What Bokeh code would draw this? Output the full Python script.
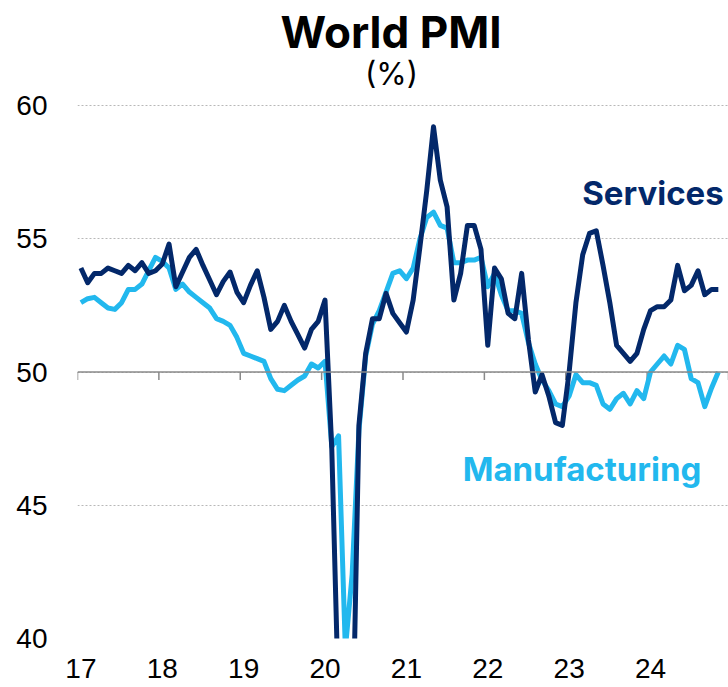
import numpy as np
from bokeh.plotting import figure
from bokeh.models import Range1d, FixedTicker, Span, Label
from bokeh.embed import file_html
from bokeh.resources import INLINE

# ---- data (monthly, Jan 2017 - Nov 2024) ----
year_labels = ["17", "18", "19", "20", "21", "22", "23", "24"]

manufacturing = [
    # 2017
    52.6, 52.75, 52.8, 52.6, 52.4, 52.35, 52.6, 53.1, 53.1, 53.3, 53.8, 54.3,
    # 2018
    54.15, 53.9, 53.1, 53.3, 53.0, 52.8, 52.6, 52.4, 52.0, 51.9, 51.75, 51.3,
    # 2019
    50.7, 50.6, 50.5, 50.4, 49.75, 49.35, 49.3, 49.5, 49.7, 49.85, 50.3, 50.15,
    # 2020
    50.4, 47.2, 47.6, 39.6, 42.4, 47.8, 50.6, 51.8, 52.3, 53.0, 53.7, 53.8,
    # 2021
    53.5, 53.9, 55.0, 55.8, 56.0, 55.5, 55.4, 54.1, 54.1, 54.2, 54.2, 54.3,
    # 2022
    53.2, 53.7, 52.9, 52.3, 52.3, 52.2, 51.1, 50.3, 49.7, 49.3, 48.8, 48.7,
    # 2023
    49.1, 49.9, 49.6, 49.6, 49.5, 48.8, 48.6, 49.0, 49.2, 48.8, 49.3, 49.0,
    # 2024
    50.0, 50.3, 50.6, 50.3, 51.0, 50.85, 49.75, 49.6, 48.7, 49.4, 50.0,
]

services = [
    # 2017
    53.9, 53.35, 53.7, 53.7, 53.9, 53.8, 53.7, 54.0, 53.8, 54.1, 53.7, 53.8,
    # 2018
    54.05, 54.8, 53.2, 53.75, 54.3, 54.6, 54.0, 53.45, 52.9, 53.4, 53.75, 53.0,
    # 2019
    52.6, 53.25, 53.8, 52.8, 51.6, 51.9, 52.5, 51.9, 51.4, 50.9, 51.6, 51.9,
    # 2020
    52.7, 47.1, 37.5, 23.7, 35.1, 48.0, 50.7, 52.0, 52.0, 52.95, 52.2, 51.85,
    # 2021
    51.5, 52.7, 54.7, 56.8, 59.2, 57.2, 56.2, 52.7, 53.7, 55.5, 55.5, 54.6,
    # 2022
    51.0, 53.9, 53.5, 52.2, 52.0, 53.7, 51.2, 49.25, 49.9, 49.1, 48.1, 48.0,
    # 2023
    50.0, 52.6, 54.4, 55.2, 55.3, 54.0, 52.6, 51.0, 50.7, 50.4, 50.7, 51.6,
    # 2024
    52.3, 52.45, 52.45, 52.7, 54.0, 53.05, 53.25, 53.8, 52.9, 53.1, 53.1,
]

y_ticks = [40, 45, 50, 55, 60]

# ---- styling / layout ----
DARK = "#03286A"
LIGHT = "#22B8EE"
W, H = 728, 687
LEFT, BOTTOM = 77, 49
FRAME_H = H - BOTTOM
TOP_GAP = 105  # pixels between canvas top and the 60 gridline
y_top = 40 + 20 * FRAME_H / (FRAME_H - TOP_GAP)

x = np.arange(len(services)) + 0.5  # month centres, 0 = start of 2017
n_years = len(year_labels) + 1

p = figure(width=W, height=H, output_backend="svg", toolbar_location=None,
           x_range=Range1d(0, 12 * n_years - 12), y_range=Range1d(40, y_top),
           min_border_left=LEFT, min_border_right=0, min_border_top=0,
           min_border_bottom=BOTTOM)
p.outline_line_color = None
p.background_fill_color = "white"
p.border_fill_color = "white"

# axes
p.yaxis.ticker = FixedTicker(ticks=y_ticks)
p.yaxis.axis_line_color = None
p.yaxis.major_tick_line_color = None
p.yaxis.minor_tick_line_color = None
p.yaxis.major_label_text_font = "Liberation Sans"
p.yaxis.major_label_text_font_size = "28px"
p.yaxis.major_label_text_color = "#000000"
p.yaxis.major_label_standoff = 24

label_pos = [12 * i + 0.5 for i in range(len(year_labels))]
p.xaxis.ticker = FixedTicker(ticks=label_pos)
p.xaxis.major_label_overrides = {pos: lab for pos, lab in zip(label_pos, year_labels)}
p.xaxis.axis_line_color = None
p.xaxis.major_tick_line_color = None
p.xaxis.minor_tick_line_color = None
p.xaxis.major_label_text_font = "Liberation Sans"
p.xaxis.major_label_text_font_size = "28px"
p.xaxis.major_label_text_color = "#000000"
p.xaxis.major_label_standoff = 14

p.xgrid.grid_line_color = None
p.ygrid.grid_line_color = "#b8b8b8"
p.ygrid.grid_line_dash = "2 2"
p.ygrid.grid_line_width = 1

# 50 reference line with year ticks
p.add_layout(Span(location=50, dimension="width", line_color="#8a8a8a", line_width=1.5))
edges = [12 * i for i in range(n_years)]
p.segment(x0=edges, y0=[50] * len(edges), x1=edges, y1=[49.7] * len(edges),
          line_color="#8a8a8a", line_width=1.5)

# series
p.line(x, manufacturing, line_color=LIGHT, line_width=5, line_join="round")
p.line(x, services, line_color=DARK, line_width=5, line_join="round")

# series labels
p.add_layout(Label(x=95.3, y=56.7, text="Services", text_align="right",
                   text_baseline="alphabetic", text_font="Inter", text_font_style="bold",
                   text_font_size="33px", text_color=DARK))
p.add_layout(Label(x=56.8, y=46.35, text="Manufacturing", text_align="left",
                   text_baseline="alphabetic", text_font="Inter", text_font_style="bold",
                   text_font_size="33px", text_color=LIGHT))

# titles (screen units relative to the frame)
p.add_layout(Label(x=313.5, y=FRAME_H - 31, x_units="screen", y_units="screen",
                   text="World PMI", text_align="center", text_baseline="alphabetic",
                   text_font="Inter", text_font_style="bold", text_font_size="44px",
                   text_color="#000000"))
p.add_layout(Label(x=314, y=FRAME_H - 73, x_units="screen", y_units="screen",
                   text="(%)", text_align="center", text_baseline="alphabetic",
                   text_font="Inter", text_font_size="31px", text_color="#000000"))

open("out.html", "w").write(file_html(p, INLINE))
